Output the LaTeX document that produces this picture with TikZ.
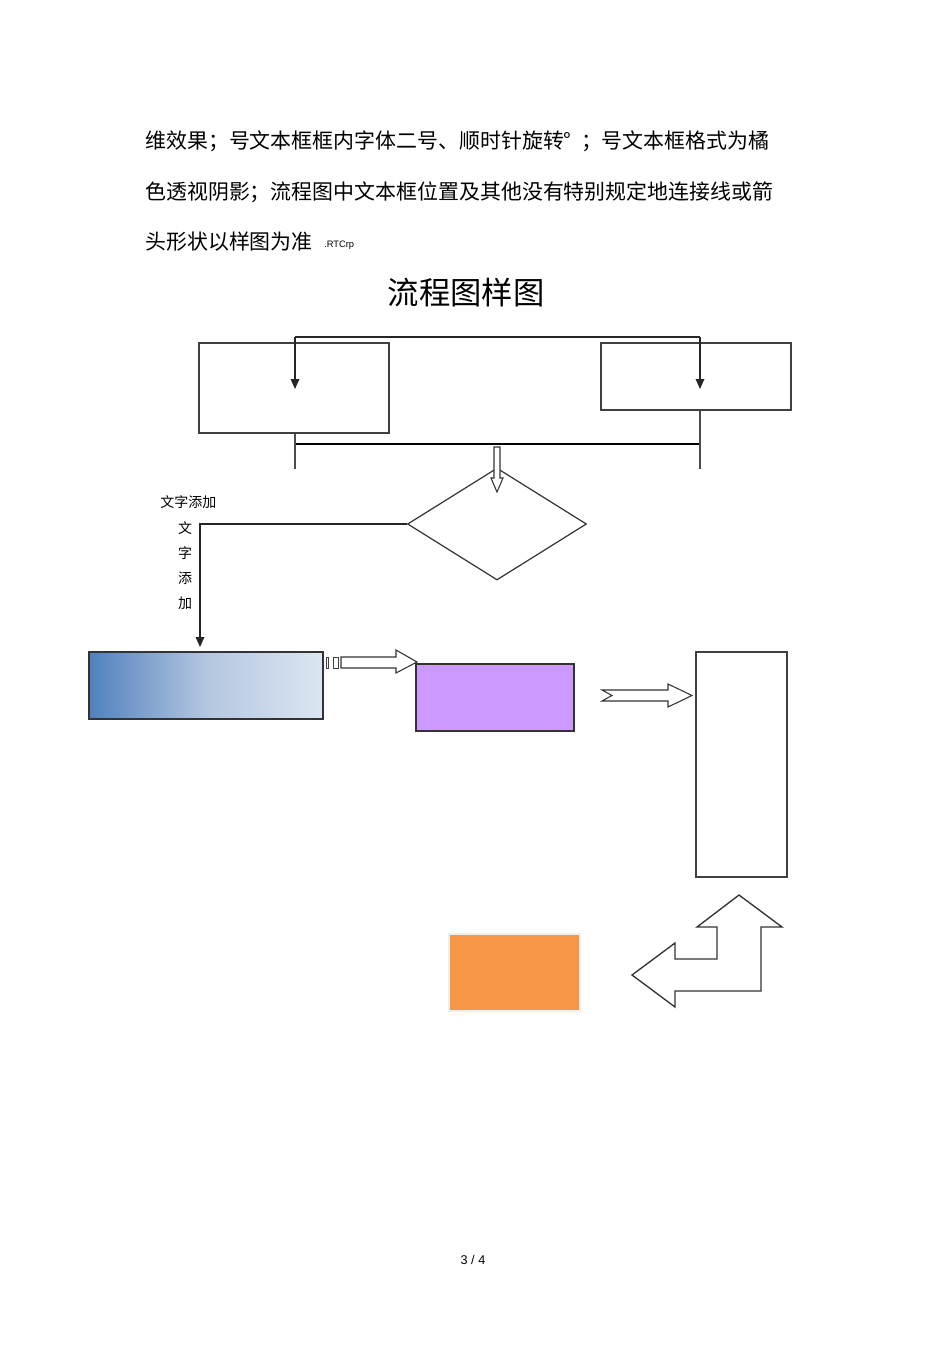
\documentclass[tikz,border=0pt]{standalone}
\usepackage{fontspec}
\setmainfont{Liberation Sans}
\newfontfamily\cjk{Noto Sans CJK SC}
\usetikzlibrary{arrows.meta,fit,shapes.geometric}
\definecolor{gradL}{HTML}{4F81BD}
\definecolor{gradM}{HTML}{B4C6E0}
\definecolor{gradR}{HTML}{DCE6F2}
\definecolor{purp}{HTML}{CC99FF}
\definecolor{orng}{HTML}{F79646}
\definecolor{lgry}{HTML}{EFEFEF}
\tikzset{
  box/.style={draw=black!75, line width=0.9pt, inner sep=0pt},
  conn/.style={draw=black!85, line width=0.9pt},
  tip/.style={-{Triangle[width=6.5pt,length=7.5pt]}},
  hollow/.style={draw=black!80, line width=0.8pt, fill=white, line join=miter},
  body/.style={font=\cjk\fontsize{15.7pt}{18pt}\selectfont, anchor=west, inner sep=0pt},
  small/.style={font=\cjk\fontsize{10.5pt}{12pt}\selectfont, inner sep=0pt},
}
\begin{document}
\begin{tikzpicture}[x=0.75pt,y=-0.75pt]
\useasboundingbox (0,0) rectangle (950,1345);
% header text
\node[body] (t1) at (145,141) {维效果；号文本框框内字体二号、顺时针旋转°\ \ ；号文本框格式为橘};
\node[body] (t2) at (145,192) {色透视阴影；流程图中文本框位置及其他没有特别规定地连接线或箭};
\node[body] (t3) at (145,242) {头形状以样图为准};
\node[font=\fontsize{7pt}{8pt}\selectfont, anchor=west, inner sep=0pt] (t4) at (324,245) {.RTCrp};
\node[font=\cjk\fontsize{23.5pt}{26pt}\selectfont, inner sep=0pt] (title) at (466,293) {流程图样图};

% top boxes
\coordinate (l1) at (199,343); \coordinate (l2) at (389,433);
\node[box, fit=(l1)(l2)] (L) {};
\coordinate (r1) at (601,343); \coordinate (r2) at (791,410);
\node[box, fit=(r1)(r2)] (R) {};

% top connector with two down arrows
\coordinate (la) at (295,389);
\coordinate (ra) at (700,389);
\draw[conn, tip] (295,337) -- (la);
\draw[conn] (295,337) -- (700,337);
\draw[conn, tip] (700,337) -- (ra);

% bar below
\coordinate (bl) at (295,444);
\coordinate (br) at (700,444);
\draw[black, line width=1.6pt] (bl) -- (br);
\draw[black!70, line width=0.8pt] (L.south -| bl) -- (295,469);
\draw[black!70, line width=0.8pt] (R.south -| br) -- (700,469);

% diamond
\node[draw=black!80, line width=0.9pt, diamond, aspect=1.6, minimum width=179*0.75pt, minimum height=112*0.75pt, inner sep=0pt] (D) at (497,524) {};

% hollow arrow bar -> diamond
\draw[hollow] (494,447) -- (500,447) -- (500,478) -- (503,478) -- (497,492) -- (491,478) -- (494,478) -- cycle;

% left connector
\coordinate (corner) at (200,524);
\coordinate (gtop) at (200,647);
\draw[conn, tip] (D.west) -- (corner) -- (gtop);
\node[small, anchor=west] (lab1) at (160,502) {文字添加};
\node[small] (v1) at (185,528) {文};
\node[small] (v2) at (185,553) {字};
\node[small] (v3) at (185,578) {添};
\node[small] (v4) at (185,603) {加};

% gradient box
\coordinate (g1) at (89,652); \coordinate (g2) at (323,719);
\node[box, draw=black!80, line width=1.1pt, left color=gradL, right color=gradR, middle color=gradM, fit=(g1)(g2)] (G) {};

% small marks and arrow to purple
\draw[black!75, line width=0.7pt, fill=white] (326,657) rectangle (328.5,668);
\draw[black!75, line width=0.7pt, fill=white] (333,657) rectangle (338,668);
\draw[hollow] (341,657) -- (396,657) -- (396,650) -- (417,662) -- (396,673) -- (396,668) -- (341,668) -- cycle;

% purple box
\coordinate (p1) at (416,664); \coordinate (p2) at (574,731);
\node[box, draw=black!80, line width=1.1pt, fill=purp, fit=(p1)(p2)] (P) {};

% notched arrow to tall box
\draw[hollow] (602,690) -- (668,690) -- (668,684) -- (692,695.5) -- (668,707) -- (668,701) -- (602,701) -- (612,695.5) -- cycle;

% tall box
\coordinate (k1) at (696,652); \coordinate (k2) at (787,877);
\node[box, fit=(k1)(k2)] (K) {};

% bent two-way arrow
\draw[hollow, line width=1pt] (739,895) -- (782,927) -- (761,927) -- (761,991) -- (675,991) -- (675,1007) -- (632,975) -- (675,943) -- (675,959) -- (717,959) -- (717,927) -- (697,927) -- cycle;

% orange box
\coordinate (o1) at (449,934); \coordinate (o2) at (580,1011);
\node[draw=lgry, line width=2pt, fill=orng, inner sep=0pt, fit=(o1)(o2)] (O) {};

% page number
\node[font=\fontsize{9.5pt}{11pt}\selectfont, inner sep=0pt] (pg) at (473,1260) {3 / 4};
\end{tikzpicture}
\end{document}
